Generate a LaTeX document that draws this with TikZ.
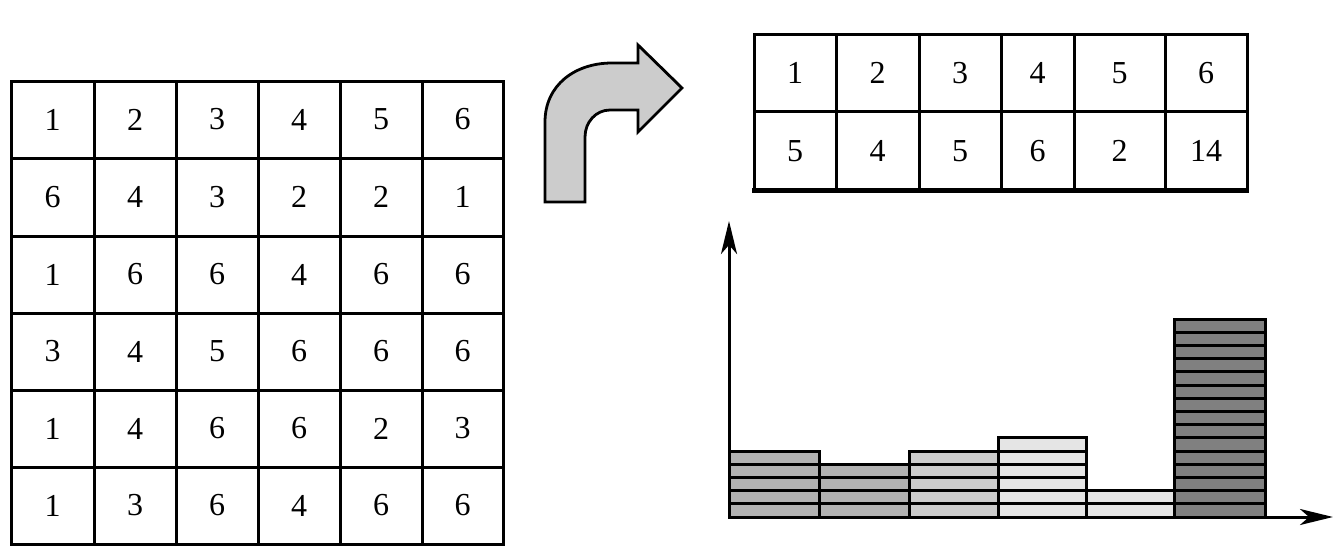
\documentclass[tikz,border=0pt]{standalone}
\usepackage{fontspec}
\setmainfont{Liberation Serif}
\usetikzlibrary{arrows.meta}
\definecolor{barA}{gray}{0.70}
\definecolor{barB}{gray}{0.80}
\definecolor{barC}{gray}{0.90}
\definecolor{barD}{gray}{0.50}
\definecolor{arrowfill}{gray}{0.80}
\tikzset{
  gridline/.style={line width=3pt, line cap=rect},
  num/.style={font=\fontsize{32}{36}\selectfont, inner sep=0pt},
  stripe/.style={line width=3pt},
  axisline/.style={line width=3pt, -{Stealth[length=33pt,width=16pt,inset=9pt]}},
  bigarrow/.style={fill=arrowfill, draw=black, line width=2.8pt, line join=miter}
}
\begin{document}
\begin{tikzpicture}[x=1pt,y=-1pt]
\useasboundingbox (0,0) rectangle (1339,554);
% ---------- left grid ----------
\foreach \xx in {11,94,176,258,340,422,503}
  \draw[gridline] (\xx,81) -- (\xx,544);
\foreach \yy in {81,158,236,313,390,467,544}
  \draw[gridline] (11,\yy) -- (503,\yy);
\def\cx{{52.5,135,217,299,381,462.5}}
\def\cy{{119.5,197,274.5,351.5,428.5,505.5}}
\foreach \r/\row in {0/{1,2,3,4,5,6},1/{6,4,3,2,2,1},2/{1,6,6,4,6,6},3/{3,4,5,6,6,6},4/{1,4,6,6,2,3},5/{1,3,6,4,6,6}}{
  \foreach \v [count=\c from 0] in \row {
    \pgfmathsetmacro{\px}{\cx[\c]}
    \pgfmathsetmacro{\py}{\cy[\r]}
    \node[num] (L-\r-\c) at (\px,\py) {\v};
  }
}
% ---------- curved arrow ----------
\draw[bigarrow] (545,202) -- (545,122) .. controls (545,85) and (575,63) .. (612,63)
  -- (638,63) -- (638,45) -- (682,88) -- (638,132) -- (638,110) -- (610,110)
  .. controls (596,110) and (585,122) .. (585,137) -- (585,202) -- cycle;
% ---------- right table ----------
\foreach \xx in {754,836,919,1001,1074,1165,1247}
  \draw[gridline] (\xx,34) -- (\xx,190);
\draw[gridline] (754,34) -- (1247,34);
\draw[gridline] (754,111) -- (1247,111);
\draw[line width=5pt] (752,190) -- (1249,190);
\foreach \v/\px [count=\c] in {1/795,2/877.5,3/960,4/1037.5,5/1119.5,6/1206}
  \node[num] (T-1-\c) at (\px,73) {\v};
\foreach \v/\px [count=\c] in {5/795,4/877.5,5/960,6/1037.5,2/1119.5,14/1206}
  \node[num] (T-2-\c) at (\px,151) {\v};
% ---------- histogram ----------
\def\u{13.2}
\foreach \xa/\xb/\n/\col in {729/819/5/barA,819/909/4/barA,909/998/5/barB,998/1086/6/barC,1086/1174/2/barC,1174/1265/15/barD}{
  \foreach \k in {1,...,\n}{
    \draw[stripe, fill=\col] (\xa,{517-(\k-1)*\u}) rectangle (\xb,{517-\k*\u});
  }
}
\coordinate (O) at (729,517);
\coordinate (ytip) at (729,221);
\coordinate (xtip) at (1333,517);
\draw[axisline] (O) -- (ytip);
\draw[axisline] (O) -- (xtip);
\end{tikzpicture}
\end{document}
